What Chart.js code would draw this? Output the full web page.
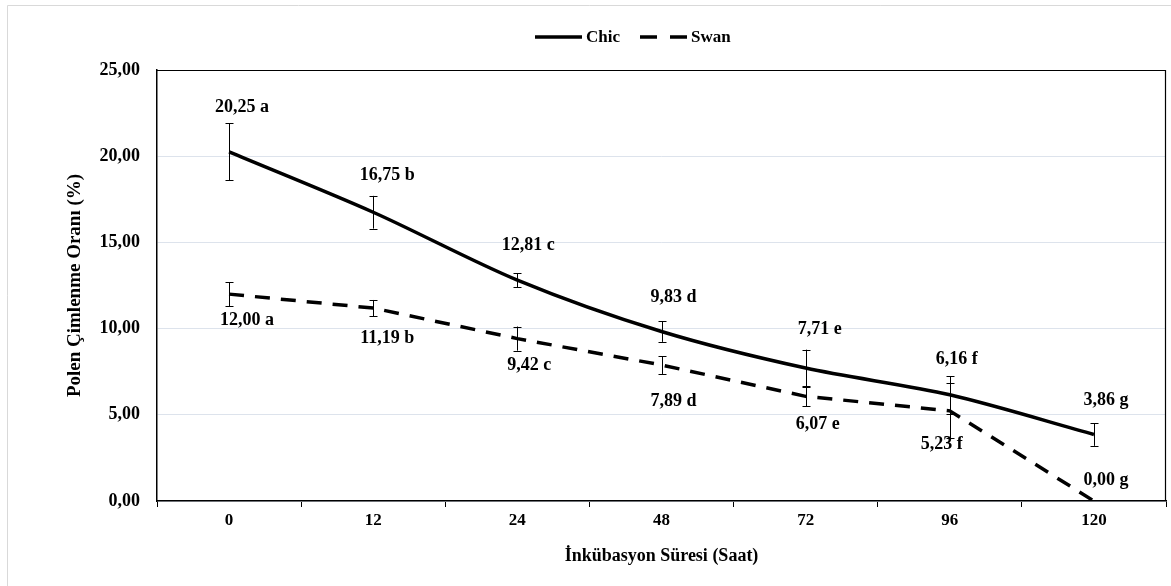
<!DOCTYPE html>
<html><head><meta charset="utf-8">
<script src="https://cdn.jsdelivr.net/npm/chart.js@4"></script>
<style>html,body{margin:0;padding:0;background:#fff}#wrap{width:1171px;height:586px;position:relative}</style>
</head><body><div id="wrap"><canvas id="c" width="1171" height="586"></canvas></div>
<script>
const categories = ['0', '12', '24', '48', '72', '96', '120'];
const chicValues = [20.25, 16.75, 12.81, 9.83, 7.71, 6.16, 3.86];
const chicErrors = [1.65, 0.95, 0.41, 0.60, 1.07, 1.09, 0.66];
const chicLetters = ['a', 'b', 'c', 'd', 'e', 'f', 'g'];
const swanValues = [12.00, 11.19, 9.42, 7.89, 6.07, 5.23, 0.00];
const swanErrors = [0.70, 0.47, 0.70, 0.52, 0.58, 1.60, 0];
const swanLetters = ['a', 'b', 'c', 'd', 'e', 'f', 'g'];
const seriesNames = ['Chic', 'Swan'];
const yMin = 0, yMax = 25, yStep = 5;

const FONT = "'Liberation Serif', 'Times New Roman', serif";
const fmt = v => v.toFixed(2).replace('.', ',');

const errorsByDataset = [chicErrors, swanErrors];
const lettersByDataset = [chicLetters, swanLetters];

const framePlugin = {
  id: 'frame',
  beforeDraw(chart) {
    const ctx = chart.ctx;
    ctx.save();
    ctx.fillStyle = '#fff';
    ctx.fillRect(0, 0, chart.width, chart.height);
    ctx.strokeStyle = '#d9d9d9';
    ctx.lineWidth = 1;
    ctx.beginPath();
    ctx.moveTo(7.5, chart.height);
    ctx.lineTo(7.5, 5.5);
    ctx.lineTo(chart.width, 5.5);
    ctx.stroke();
    ctx.restore();
  },
  beforeDatasetsDraw(chart) {
    const {ctx, chartArea: a} = chart;
    ctx.save();
    ctx.strokeStyle = '#000';
    ctx.lineWidth = 1.2;
    ctx.beginPath();
    ctx.moveTo(a.left, a.top + 0.5);
    ctx.lineTo(a.right - 0.5, a.top + 0.5);
    ctx.lineTo(a.right - 0.5, a.bottom);
    ctx.stroke();
    ctx.restore();
  }
};

const errorBarPlugin = {
  id: 'errorBars',
  afterDatasetsDraw(chart) {
    const ctx = chart.ctx;
    const y = chart.scales.y;
    ctx.save();
    ctx.strokeStyle = '#000';
    ctx.lineWidth = 1;
    chart.data.datasets.forEach((ds, di) => {
      const meta = chart.getDatasetMeta(di);
      const errs = errorsByDataset[di];
      meta.data.forEach((pt, i) => {
        const e = errs[i];
        if (!e) return;
        const v = ds.data[i];
        const x = Math.round(pt.x) + 0.5;
        const yt = y.getPixelForValue(v + e);
        const yb = y.getPixelForValue(v - e);
        ctx.beginPath();
        ctx.moveTo(x, yt); ctx.lineTo(x, yb);
        ctx.moveTo(x - 4, Math.round(yt) + 0.5); ctx.lineTo(x + 4, Math.round(yt) + 0.5);
        ctx.moveTo(x - 4, Math.round(yb) + 0.5); ctx.lineTo(x + 4, Math.round(yb) + 0.5);
        ctx.stroke();
      });
    });
    ctx.restore();
  }
};

const labelPlugin = {
  id: 'valueLabels',
  afterDatasetsDraw(chart, args, opts) {
    const ctx = chart.ctx;
    ctx.save();
    ctx.font = 'bold 18px ' + FONT;
    ctx.fillStyle = '#000';
    ctx.textAlign = 'center';
    ctx.textBaseline = 'middle';
    chart.data.datasets.forEach((ds, di) => {
      const meta = chart.getDatasetMeta(di);
      const offs = opts.offsets[di];
      meta.data.forEach((pt, i) => {
        const [dx, dy] = offs[i];
        ctx.fillText(fmt(ds.data[i]) + ' ' + lettersByDataset[di][i], pt.x + dx, pt.y + dy);
      });
    });
    ctx.restore();
  }
};

const legendPlugin = {
  id: 'customLegend',
  afterDraw(chart, args, opts) {
    const ctx = chart.ctx;
    ctx.save();
    ctx.font = 'bold 17px ' + FONT;
    ctx.fillStyle = '#000';
    ctx.textBaseline = 'middle';
    ctx.textAlign = 'left';
    let x = opts.x;
    const yy = opts.y;
    chart.data.datasets.forEach((ds, di) => {
      ctx.strokeStyle = ds.borderColor;
      ctx.lineWidth = ds.borderWidth;
      ctx.setLineDash(ds.borderDash ? [17, 13] : []);
      ctx.beginPath();
      ctx.moveTo(x, yy);
      ctx.lineTo(x + opts.lineLen, yy);
      ctx.stroke();
      ctx.setLineDash([]);
      x += opts.lineLen + 4;
      ctx.fillText(ds.label, x, yy + 1);
      x += ctx.measureText(ds.label).width + opts.gap;
    });
    ctx.restore();
  }
};

new Chart(document.getElementById('c'), {
  type: 'line',
  data: {
    labels: categories,
    datasets: [
      {
        label: seriesNames[0],
        data: chicValues,
        borderColor: '#000',
        borderWidth: 3.5,
        tension: 0.3,
        pointRadius: 0,
        fill: false
      },
      {
        label: seriesNames[1],
        data: swanValues,
        borderColor: '#000',
        borderWidth: 3.5,
        borderDash: [15, 11],
        tension: 0,
        pointRadius: 0,
        fill: false
      }
    ]
  },
  options: {
    responsive: false,
    animation: false,
    devicePixelRatio: 1,
    layout: {padding: {top: 70, left: 60, right: 5, bottom: 10}},
    plugins: {
      legend: {display: false},
      tooltip: {enabled: false},
      valueLabels: {
        offsets: [
          [[13, -45], [14, -37], [11, -35], [12, -34], [14, -39], [7, -35], [12, -34]],
          [[18, 26], [14, 30], [12, 27], [12, 36], [12, 28], [-8, 34], [12, -21]]
        ]
      },
      customLegend: {x: 535, y: 37, lineLen: 47, gap: 20}
    },
    scales: {
      x: {
        type: 'category',
        offset: true,
        grid: {display: true, offset: true, drawOnChartArea: false, drawTicks: true, tickLength: 6, color: '#000'},
        border: {display: true, color: '#000', width: 1.5},
        ticks: {color: '#000', font: {family: FONT, size: 17, weight: 'bold'}, padding: 3, maxRotation: 0},
        title: {display: true, text: 'İnkübasyon Süresi (Saat)', color: '#000', font: {family: FONT, size: 18, weight: 'bold'}, padding: {top: 9, bottom: 9}},
        afterFit: s => { s.height = 75; }
      },
      y: {
        min: yMin,
        max: yMax,
        ticks: {stepSize: yStep, color: '#000', font: {family: FONT, size: 18, weight: 'bold'}, padding: 17, callback: v => fmt(v)},
        grid: {color: '#dde3ec', drawTicks: false, lineWidth: 1},
        border: {display: true, color: '#000', width: 1.5},
        title: {display: true, text: 'Polen Çimlenme Oranı (%)', color: '#000', font: {family: FONT, size: 19, weight: 'bold'}, padding: {top: 4, bottom: 4}},
        afterFit: s => { s.width = 97; }
      }
    }
  },
  plugins: [framePlugin, errorBarPlugin, labelPlugin, legendPlugin]
});
</script>
</body></html>
